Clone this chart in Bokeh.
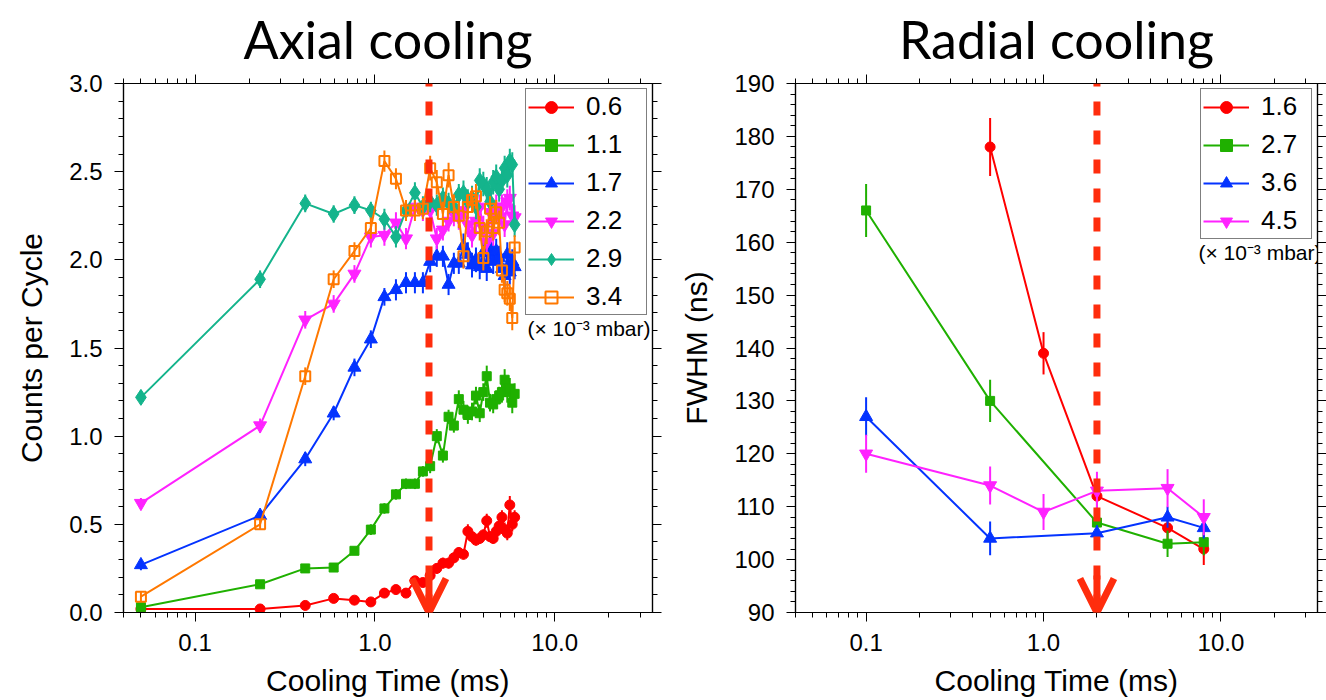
import numpy as np
from bokeh.plotting import figure
from bokeh.models import (Range1d, FixedTicker, SingleIntervalTicker, PrintfTickFormatter,
                          CustomJSTickFormatter, LinearAxis, LogAxis, Span, Arrow, OpenHead,
                          Legend, LegendItem, Label)
from bokeh.layouts import row
from bokeh.embed import file_html
from bokeh.resources import INLINE

# ---------------- data: axial cooling (counts per cycle) ----------------
axial_time_ms = [0.05, 0.23, 0.41, 0.59, 0.77, 0.95, 1.13, 1.31, 1.49, 1.67, 1.85, 2.03,
                 2.21, 2.39, 2.57, 2.75, 2.93, 3.11, 3.29, 3.47, 3.65, 3.83, 4.01, 4.19,
                 4.37, 4.55, 4.73, 4.91, 5.09, 5.27, 5.45, 5.63, 5.81, 5.99]
axial_labels = ["0.6", "1.1", "1.7", "2.2", "2.9", "3.4"]

axial_p06 = [0.02, 0.02, 0.04, 0.08, 0.07, 0.06, 0.11, 0.13, 0.11, 0.18, 0.17, 0.21,
             0.25, 0.28, 0.28, 0.31, 0.34, 0.33, 0.46, 0.43, 0.41, 0.42, 0.44, 0.52,
             0.43, 0.42, 0.46, 0.49, 0.54, 0.47, 0.45, 0.61, 0.50, 0.54]
axial_p06_err = [0.01, 0.01, 0.01, 0.02, 0.02, 0.02, 0.02, 0.02, 0.02, 0.02, 0.02, 0.03,
                 0.03, 0.03, 0.03, 0.03, 0.03, 0.03, 0.04, 0.03, 0.03, 0.03, 0.03, 0.04,
                 0.03, 0.03, 0.04, 0.04, 0.04, 0.04, 0.04, 0.05, 0.04, 0.04]

axial_p11 = [0.03, 0.16, 0.25, 0.255, 0.35, 0.47, 0.59, 0.67, 0.73, 0.73, 0.80, 0.83,
             1.00, 0.89, 1.11, 1.06, 1.21, 1.15, 1.12, 1.14, 1.23, 1.13, 1.25, 1.34,
             1.19, 1.18, 1.21, 1.23, 1.25, 1.32, 1.25, 1.27, 1.19, 1.24]
axial_p11_err = [0.01, 0.02, 0.02, 0.02, 0.02, 0.03, 0.03, 0.03, 0.03, 0.03, 0.03, 0.04,
                 0.04, 0.04, 0.04, 0.04, 0.05, 0.05, 0.05, 0.05, 0.05, 0.05, 0.05, 0.06,
                 0.05, 0.05, 0.05, 0.05, 0.06, 0.06, 0.06, 0.06, 0.06, 0.06]

axial_p17 = [0.27, 0.55, 0.87, 1.13, 1.39, 1.55, 1.79, 1.83, 1.87, 1.87, 1.87, 1.99,
             2.02, 2.02, 1.86, 1.98, 1.98, 2.08, 2.03, 1.97, 2.00, 1.96, 2.04, 1.95,
             2.07, 1.99, 2.05, 2.01, 1.95, 1.91, 2.03, 1.93, 1.99, 1.96]
axial_p17_err = [0.03, 0.03, 0.04, 0.04, 0.05, 0.05, 0.05, 0.06, 0.06, 0.06, 0.06, 0.06,
                 0.06, 0.06, 0.06, 0.06, 0.06, 0.07, 0.07, 0.07, 0.07, 0.07, 0.07, 0.07,
                 0.07, 0.07, 0.07, 0.07, 0.07, 0.07, 0.07, 0.07, 0.07, 0.07]

axial_p22 = [0.62, 1.06, 1.66, 1.75, 1.92, 2.13, 2.14, 2.21, 2.12, 2.30, 2.28, 2.28,
             2.12, 2.17, 2.22, 2.26, 2.24, 2.28, 2.20, 2.14, 2.22, 2.30, 2.18, 2.10,
             2.27, 2.15, 2.30, 2.24, 2.30, 2.20, 2.33, 2.35, 2.25, 2.24]
axial_p22_err = [0.03, 0.04, 0.05, 0.05, 0.05, 0.06, 0.06, 0.06, 0.06, 0.06, 0.06, 0.06,
                 0.06, 0.06, 0.06, 0.07, 0.07, 0.07, 0.07, 0.07, 0.07, 0.07, 0.07, 0.07,
                 0.07, 0.07, 0.07, 0.07, 0.07, 0.07, 0.07, 0.07, 0.07, 0.07]

axial_p29 = [1.22, 1.89, 2.32, 2.26, 2.31, 2.28, 2.23, 2.13, 2.28, 2.38, 2.30, 2.33,
             2.31, 2.35, 2.32, 2.30, 2.37, 2.38, 2.33, 2.35, 2.30, 2.45, 2.43, 2.40,
             2.33, 2.44, 2.47, 2.40, 2.45, 2.52, 2.48, 2.56, 2.54, 2.20]
axial_p29_err = [0.04, 0.05, 0.05, 0.05, 0.05, 0.05, 0.06, 0.06, 0.06, 0.06, 0.06, 0.06,
                 0.06, 0.06, 0.06, 0.06, 0.06, 0.07, 0.07, 0.07, 0.07, 0.07, 0.07, 0.07,
                 0.07, 0.07, 0.07, 0.07, 0.07, 0.07, 0.07, 0.07, 0.07, 0.07]

axial_p34 = [0.09, 0.50, 1.34, 1.89, 2.05, 2.18, 2.56, 2.46, 2.28, 2.28, 2.29, 2.52,
             2.44, 2.26, 2.48, 2.30, 2.25, 2.02, 2.30, 2.34, 2.36, 2.18, 2.01, 2.16,
             2.29, 2.18, 2.27, 2.21, 1.94, 1.83, 1.81, 1.78, 1.67, 2.07]
axial_p34_err = [0.03, 0.03, 0.05, 0.05, 0.05, 0.06, 0.06, 0.06, 0.06, 0.06, 0.06, 0.07,
                 0.07, 0.07, 0.07, 0.07, 0.07, 0.07, 0.07, 0.07, 0.07, 0.07, 0.07, 0.07,
                 0.07, 0.07, 0.07, 0.07, 0.07, 0.07, 0.07, 0.07, 0.07, 0.07]

# ---------------- data: radial cooling (FWHM, ns) ----------------
radial_labels = ["1.6", "2.7", "3.6", "4.5"]
radial_p16_t = [0.5, 1.0, 2.0, 5.0, 8.0]
radial_p16 = [178.0, 139.0, 112.0, 106.0, 102.0]
radial_p16_err = [5.5, 4.0, 3.5, 2.5, 3.0]
radial_p27_t = [0.1, 0.5, 2.0, 5.0, 8.0]
radial_p27 = [166.0, 130.0, 107.0, 103.0, 103.3]
radial_p27_err = [5.0, 4.0, 3.0, 2.5, 2.5]
radial_p36_t = [0.1, 0.5, 2.0, 5.0, 8.0]
radial_p36 = [127.0, 104.0, 105.0, 108.0, 106.0]
radial_p36_err = [3.7, 3.2, 1.5, 2.0, 2.0]
radial_p45_t = [0.1, 0.5, 1.0, 2.0, 5.0, 8.0]
radial_p45 = [120.0, 114.0, 109.0, 113.0, 113.5, 108.0]
radial_p45_err = [3.6, 3.6, 3.4, 3.6, 3.6, 3.4]

chosen_cooling_ms = 2.0

x_major_ticks = [0.1, 1.0, 10.0]
x_minor_ticks = [0.04, 0.05, 0.06, 0.07, 0.08, 0.09,
                 0.2, 0.3, 0.4, 0.5, 0.6, 0.7, 0.8, 0.9,
                 2, 3, 4, 5, 6, 7, 8, 9, 20, 30]

# ---------------- styles ----------------
FONT = "Liberation Sans"
RED, GREEN, BLUE = "#ff0000", "#1fb000", "#0433ff"
MAGENTA, TEAL, ORANGE = "#ff22ff", "#14b48c", "#ff7800"
MARK_RED = "#ff2d0d"

axial_styles = [(RED, "circle", 10, True), (GREEN, "square", 9, True),
                (BLUE, "triangle", 13, True), (MAGENTA, "inverted_triangle", 13, True),
                (TEAL, "diamond", 16, True), (ORANGE, "square", 10, False)]
radial_styles = [(RED, "circle", 10, True), (GREEN, "square", 9, True),
                 (BLUE, "triangle", 13, True), (MAGENTA, "inverted_triangle", 13, True)]


def style_axis(ax, labels=True):
    ax.axis_line_color = "black"
    ax.axis_line_width = 1.2
    ax.major_tick_line_color = "black"
    ax.minor_tick_line_color = "black"
    ax.major_tick_out = 9
    ax.major_tick_in = 0
    ax.minor_tick_out = 5
    ax.minor_tick_in = 0
    ax.major_label_text_font = FONT
    ax.major_label_text_font_size = "24px"
    ax.major_label_text_color = "black"
    ax.major_label_standoff = 12
    ax.axis_label_text_font = FONT
    ax.axis_label_text_font_size = "30px"
    ax.axis_label_text_font_style = "normal"
    ax.axis_label_text_color = "black"
    ax.axis_label_standoff = 10
    if not labels:
        ax.formatter = CustomJSTickFormatter(code="return ''")
        ax.major_label_standoff = 0


def make_fig(title, width, border_left, border_right, yr, y_interval, y_fmt, y_label):
    p = figure(width=width, height=700, x_axis_type="log",
               x_range=Range1d(0.04, 35), y_range=Range1d(*yr),
               output_backend="svg", toolbar_location=None,
               min_border_left=border_left, min_border_right=border_right,
               min_border_top=82, min_border_bottom=88, title=title)
    p.title.align = "center"
    p.title.text_font = "Lato"
    p.title.text_font_size = "52px"
    p.title.text_font_style = "normal"
    p.title.text_color = "black"
    p.grid.visible = False
    p.outline_line_color = "black"
    p.outline_line_width = 1.2

    p.xaxis.ticker = FixedTicker(ticks=x_major_ticks, minor_ticks=x_minor_ticks)
    p.xaxis.formatter = PrintfTickFormatter(format="%.1f")
    p.xaxis.axis_label = "Cooling Time (ms)"
    p.yaxis.ticker = SingleIntervalTicker(interval=y_interval, num_minor_ticks=5)
    p.yaxis.formatter = PrintfTickFormatter(format=y_fmt)
    p.yaxis.axis_label = y_label
    for ax in p.xaxis + p.yaxis:
        style_axis(ax)
    for ax in p.yaxis:
        ax.axis_label_standoff = 18

    top = LogAxis(ticker=FixedTicker(ticks=x_major_ticks, minor_ticks=x_minor_ticks))
    style_axis(top, labels=False)
    p.add_layout(top, "above")
    right = LinearAxis(ticker=SingleIntervalTicker(interval=y_interval, num_minor_ticks=5))
    style_axis(right, labels=False)
    p.add_layout(right, "right")
    return p


def draw_series(p, x, y, err, style):
    color, marker, size, filled = style
    y = np.asarray(y, dtype=float)
    e = np.asarray(err, dtype=float)
    p.segment(x0=x, y0=y - e, x1=x, y1=y + e, line_color=color, line_width=2)
    ln = p.line(x, y, line_color=color, line_width=2)
    sc = p.scatter(x, y, marker=marker, size=size, line_color=color,
                   fill_color=color if filled else None, line_width=2 if not filled else 1)
    return [ln, sc]


def add_marker(p, y0, y1):
    p.add_layout(Span(location=chosen_cooling_ms, dimension="height", line_color=MARK_RED,
                      line_width=7, line_dash="14 15", line_dash_offset=11))
    arrow_start = y0 + 0.07 * (y1 - y0)
    p.add_layout(Arrow(end=OpenHead(size=34, line_color=MARK_RED, line_width=7),
                       x_start=chosen_cooling_ms, y_start=arrow_start,
                       x_end=chosen_cooling_ms, y_end=y0,
                       line_color=MARK_RED, line_width=7))


def add_legend(p, items, note_x, note_y, label_width):
    leg = Legend(items=items, location="top_right", margin=5, padding=2, spacing=7,
                 glyph_width=46, glyph_height=30, label_height=30, label_width=label_width,
                 label_standoff=12, label_text_font=FONT, label_text_font_size="26px",
                 label_text_color="black",
                 border_line_color="black", border_line_width=1,
                 background_fill_color="white", background_fill_alpha=1)
    p.add_layout(leg)
    p.add_layout(Label(x=note_x, y=note_y, x_units="screen", y_units="screen",
                       text="(\u00d7 10\u207b\u00b3 mbar)", text_align="right",
                       text_baseline="middle", text_font=FONT, text_font_size="21px",
                       text_color="black"))


# ---------------- left: axial ----------------
pl = make_fig("Axial cooling", 663, 123, 11, (0.0, 3.0), 0.5, "%.1f", "Counts per Cycle")
axial_series = [(axial_p06, axial_p06_err), (axial_p11, axial_p11_err),
                (axial_p17, axial_p17_err), (axial_p22, axial_p22_err),
                (axial_p29, axial_p29_err), (axial_p34, axial_p34_err)]
left_items = []
for (yv, ev), st, lab in zip(axial_series, axial_styles, axial_labels):
    rs = draw_series(pl, axial_time_ms, yv, ev, st)
    left_items.append(LegendItem(label=lab, renderers=rs))
add_marker(pl, 0.0, 3.0)
add_legend(pl, left_items, 527, 284, 58)

# ---------------- right: radial ----------------
pr = make_fig("Radial cooling", 663, 132, 9, (90, 190), 10, "%d", "FWHM (ns)")
radial_series = [(radial_p16_t, radial_p16, radial_p16_err),
                 (radial_p27_t, radial_p27, radial_p27_err),
                 (radial_p36_t, radial_p36, radial_p36_err),
                 (radial_p45_t, radial_p45, radial_p45_err)]
right_items = []
for (xv, yv, ev), st, lab in zip(radial_series, radial_styles, radial_labels):
    rs = draw_series(pr, xv, yv, ev, st)
    right_items.append(LegendItem(label=lab, renderers=rs))
add_marker(pr, 90.0, 190.0)
add_legend(pr, right_items, 526, 360, 48)

layout = row(pl, pr, spacing=0)
open("out.html", "w").write(file_html(layout, INLINE))
